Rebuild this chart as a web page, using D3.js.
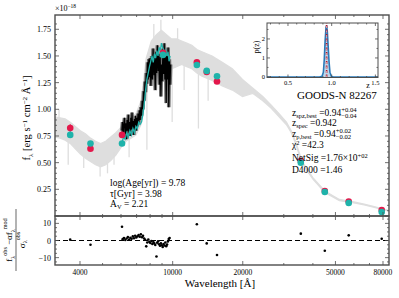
<!DOCTYPE html>
<html>
<head>
<meta charset="utf-8">
<script src="https://cdn.jsdelivr.net/npm/d3@7"></script>
<style>
  body { margin: 0; background: #fff; }
  svg { display: block; font-family: "Liberation Serif", "DejaVu Serif", serif; }
</style>
</head>
<body>
<svg width="399" height="298"></svg>
<script>
// best-fit template (light grey), flux in 1e-18 erg/s/cm2/A
var greyWave = [3124, 3285, 3454, 3631, 3818, 4014, 4220, 4437, 4665, 4905, 5157, 5422, 5700, 5993,
  6301, 6625, 6965, 7323, 7510, 7699, 8095, 8511, 8948, 9408, 9891, 10400, 10934, 11495, 12086,
  12707, 13360, 14767, 16324, 18044, 19945, 22047, 24371, 26500, 28500, 30800, 32300, 33700,
  35000, 36000, 40000, 45000, 52000, 60000, 66400, 73400, 81000, 84900];
var greyHi = [0.93, 0.92, 0.91, 0.88, 0.84, 0.80, 0.77, 0.73, 0.70, 0.68, 0.70, 0.74, 0.78, 0.83,
  0.88, 0.92, 0.96, 1.08, 1.28, 1.48, 1.64, 1.70, 1.74, 1.70, 1.66, 1.66, 1.64, 1.62, 1.60,
  1.56, 1.54, 1.50, 1.44, 1.38, 1.28, 1.20, 1.12, 1.04, 0.965, 0.88, 0.80, 0.70,
  0.59, 0.51, 0.36, 0.235, 0.155, 0.132, 0.112, 0.088, 0.063, 0.053];
var greyLo = [0.74, 0.73, 0.71, 0.68, 0.63, 0.58, 0.54, 0.51, 0.48, 0.46, 0.48, 0.52, 0.57, 0.64,
  0.70, 0.73, 0.76, 0.86, 1.02, 1.18, 1.34, 1.40, 1.44, 1.40, 1.38, 1.40, 1.42, 1.40, 1.38,
  1.34, 1.31, 1.27, 1.22, 1.18, 1.12, 1.15, 1.08, 1.01, 0.935, 0.855, 0.78, 0.68,
  0.57, 0.49, 0.345, 0.22, 0.143, 0.122, 0.103, 0.080, 0.056, 0.046];
// absorption / emission spikes of the template
var spikeWave = [3250, 3560, 4150, 4880, 5250, 5600, 6500, 7750, 8300, 8900, 9300, 9950, 10500, 11200, 12900, 14200];
var spikeFrom = [0.90, 0.72, 0.60, 0.50, 0.52, 0.60, 0.72, 1.20, 1.66, 1.72, 1.42, 1.40, 1.62, 1.42, 1.35, 1.30];
var spikeTo   = [1.00, 0.48, 0.45, 0.37, 0.40, 0.48, 0.55, 0.62, 1.80, 1.84, 1.05, 0.88, 1.76, 1.18, 0.82, 1.08];

// grism spectrum (black)
var obsWave = [6050, 6090, 6130, 6170, 6210, 6250, 6290, 6330, 6370, 6410, 6450, 6490, 6530, 6570,
  6610, 6650, 6690, 6730, 6770, 6810, 6850, 6890, 6930, 6970, 7010, 7050, 7100, 7150, 7200, 7250,
  7300, 7350, 7400, 7450, 7500, 7550, 7600, 7650, 7700, 7750, 7800, 7850, 7900, 7950, 8000, 8060,
  8120, 8180, 8240, 8300, 8360, 8420, 8480, 8540, 8600, 8660, 8720, 8780, 8840, 8900, 8960, 9020,
  9080, 9140, 9200, 9260, 9320, 9380, 9440, 9500, 9560, 9620, 9680, 9740, 9800];
var obsFlux = [0.80, 0.88, 0.74, 0.86, 0.92, 0.77, 0.87, 0.72, 0.90, 0.80, 0.95, 0.78, 0.88, 0.75,
  0.92, 0.81, 0.97, 0.79, 0.89, 0.76, 0.91, 0.82, 0.94, 0.80, 0.92, 0.84, 0.96, 0.86, 0.99, 0.90,
  1.02, 0.94, 1.08, 1.00, 1.17, 1.08, 1.26, 1.16, 1.34, 1.24, 1.44, 1.28, 1.47, 1.30, 1.48, 1.22,
  1.50, 1.28, 1.57, 1.32, 1.48, 1.18, 1.54, 1.34, 1.60, 1.36, 1.52, 1.23, 1.49, 1.12, 1.42, 1.26,
  1.57, 1.33, 1.62, 1.28, 1.54, 1.06, 1.50, 1.28, 1.58, 1.02, 1.47, 1.23, 1.42];

// model at grism resolution (cyan)
var modWave = [6050, 6150, 6250, 6350, 6450, 6550, 6650, 6750, 6850, 6950, 7050, 7150, 7250, 7350,
  7450, 7550, 7650, 7750, 7850, 7950, 8050, 8150, 8250, 8350, 8450, 8550, 8650, 8750, 8850, 8950,
  9050, 9150, 9250, 9350, 9450, 9550, 9650, 9750];
var modFlux = [0.68, 0.74, 0.72, 0.78, 0.74, 0.80, 0.76, 0.82, 0.78, 0.84, 0.82, 0.88, 0.86, 0.88,
  0.95, 1.05, 1.18, 1.28, 1.34, 1.40, 1.45, 1.50, 1.44, 1.52, 1.48, 1.55, 1.50, 1.58, 1.55, 1.62,
  1.58, 1.56, 1.52, 1.55, 1.50, 1.54, 1.45, 1.50];

// photometry: observed (red) and model (teal)
var photWave  = [3631, 4437, 6060, 9085, 12700, 14000, 15500, 35500, 45000, 57000, 79000];
var photFlux  = [0.825, 0.63, 0.76, 1.53, 1.44, 1.35, 1.26, 0.515, 0.234, 0.136, 0.056];
var photErr   = [0.035, 0.02, 0.02, 0.02, 0.015, 0.015, 0.015, 0.01, 0.01, 0.01, 0.01];
var photModel = [0.76, 0.68, 0.68, 1.51, 1.415, 1.36, 1.31, 0.50, 0.225, 0.122, 0.037];

// residuals (obs - a*mod)/sigma
var resWave = [3631, 4437, 6060, 6100, 6180, 6260, 6340, 6420, 6500, 6580, 6660, 6740, 6820, 6900,
  6980, 7060, 7140, 7220, 7300, 7380, 7460, 7540, 7620, 7700, 7780, 7860, 7940, 8020, 8100, 8180,
  8260, 8340, 8420, 8520, 8580, 8660, 8740, 8820, 8900, 8980, 9060, 9140, 9220, 9300, 9380, 9460,
  9540, 9620, 9700, 12700, 14000, 15500, 35500, 45000, 57000, 79000];
var resVal = [0.5, -2.5, 8.0, 0.8, 1.5, 0.3, 1.2, 2.0, 0.6, 1.6, 1.0, 2.4, 1.3, 2.8,
  1.8, 2.5, 3.2, 2.2, 3.6, 1.9, 2.7, 1.2, 0.4, -3.4, -1.2, 0.6, -0.8, -1.5, -0.3, -2.0,
  -0.9, -1.7, -2.6, -9.3, -1.3, -0.5, -2.2, -3.0, -1.6, -2.8, -3.8, -2.0, -2.9, -1.2, -3.3, -2.4,
  -0.6, 0.9, 1.5, 9.5, -1.7, -8.5, 4.0, -6.0, 3.0, 1.0];

// photo-z probability
var zGrid = [0.26, 0.86, 0.89, 0.905, 0.915, 0.925, 0.935, 0.942, 0.95, 0.96, 0.97, 0.98, 0.995, 1.02, 1.53];
var pz    = [0.0, 0.0, 0.03, 0.25, 0.9, 1.9, 2.6, 2.7, 2.4, 1.6, 0.8, 0.25, 0.04, 0.0, 0.0];

var xMajor = [4000, 10000, 20000, 50000, 80000];
var xLabels = ['4000', '10000', '20000', '50000', '80000'];
var xMinor = [5000, 6000, 7000, 8000, 9000, 30000, 40000, 60000, 70000];
var yMajor = [0, 0.25, 0.5, 0.75, 1.0, 1.25, 1.5, 1.75];
var yLabels = ['', '0.25', '0.50', '0.75', '1.00', '1.25', '1.50', '1.75'];
var rMajor = [-10, 0, 10];

var svg = d3.select('svg');
var L = 55, R = 389, T = 15, M = 216, B = 265;

var x = d3.scaleLog().domain([3124, 84900]).range([L, R]);
var y = d3.scaleLinear().domain([0, 1.884]).range([M, T]);
var yr = d3.scaleLinear().domain([-14.3, 14.3]).range([B, M]);

var FRAME = '#4d4d4d';

svg.append('clipPath').attr('id', 'clipMain')
  .append('rect').attr('x', L).attr('y', T).attr('width', R - L).attr('height', M - T);
svg.append('clipPath').attr('id', 'clipRes')
  .append('rect').attr('x', L).attr('y', M).attr('width', R - L).attr('height', B - M);

var main = svg.append('g').attr('clip-path', 'url(#clipMain)');

// grey template
var greyData = greyWave.map(function(w, i) { return {w: w, hi: greyHi[i], lo: greyLo[i]}; });
main.append('path')
  .datum(greyData)
  .attr('d', d3.area()
    .x(function(d) { return x(d.w); })
    .y0(function(d) { return y(d.lo); })
    .y1(function(d) { return y(d.hi); }))
  .attr('fill', '#dedede')
  .attr('stroke', '#dedede')
  .attr('stroke-width', 1.2);

main.selectAll('.spike')
  .data(spikeWave)
  .enter()
  .append('line')
  .attr('class', 'spike')
  .attr('x1', function(d) { return x(d); })
  .attr('x2', function(d) { return x(d); })
  .attr('y1', function(d, i) { return y(spikeFrom[i]); })
  .attr('y2', function(d, i) { return y(spikeTo[i]); })
  .attr('stroke', '#dedede')
  .attr('stroke-width', 1.3);

// grism spectrum
var obsData = obsWave.map(function(w, i) { return [w, obsFlux[i]]; });
var lineGen = d3.line()
  .x(function(d) { return x(d[0]); })
  .y(function(d) { return y(d[1]); });
main.append('path')
  .datum(obsData)
  .attr('d', lineGen)
  .attr('fill', 'none')
  .attr('stroke', '#6e6e6e')
  .attr('stroke-width', 3.6);
main.append('path')
  .datum(obsData)
  .attr('d', lineGen)
  .attr('fill', 'none')
  .attr('stroke', '#000')
  .attr('stroke-width', 1.2);

main.append('path')
  .datum(modWave.map(function(w, i) { return [w, modFlux[i]]; }))
  .attr('d', lineGen)
  .attr('fill', 'none')
  .attr('stroke', '#20b2aa')
  .attr('stroke-width', 1.3);

// photometry
main.selectAll('.err')
  .data(photWave)
  .enter()
  .append('line')
  .attr('class', 'err')
  .attr('x1', function(d) { return x(d); })
  .attr('x2', function(d) { return x(d); })
  .attr('y1', function(d, i) { return y(photFlux[i] - photErr[i]); })
  .attr('y2', function(d, i) { return y(photFlux[i] + photErr[i]); })
  .attr('stroke', '#e3184b')
  .attr('stroke-width', 1.2);
main.selectAll('.obs')
  .data(photWave)
  .enter()
  .append('circle')
  .attr('class', 'obs')
  .attr('cx', function(d) { return x(d); })
  .attr('cy', function(d, i) { return y(photFlux[i]); })
  .attr('r', 3.3)
  .attr('fill', '#e3184b');
main.selectAll('.mod')
  .data(photWave)
  .enter()
  .append('circle')
  .attr('class', 'mod')
  .attr('cx', function(d) { return x(d); })
  .attr('cy', function(d, i) { return y(photModel[i]); })
  .attr('r', 3.3)
  .attr('fill', '#1fb3aa');

// residuals
var res = svg.append('g').attr('clip-path', 'url(#clipRes)');
res.append('line')
  .attr('x1', L).attr('x2', R)
  .attr('y1', yr(0)).attr('y2', yr(0))
  .attr('stroke', '#000')
  .attr('stroke-width', 1.2)
  .attr('stroke-dasharray', '5,3');
res.selectAll('.res')
  .data(resWave)
  .enter()
  .append('circle')
  .attr('class', 'res')
  .attr('cx', function(d) { return x(d); })
  .attr('cy', function(d, i) { return yr(resVal[i]); })
  .attr('r', 1.3)
  .attr('fill', '#000');

// frames and ticks
function frame(x0, y0, x1, y1, w) {
  svg.append('rect')
    .attr('x', x0).attr('y', y0)
    .attr('width', x1 - x0).attr('height', y1 - y0)
    .attr('fill', 'none')
    .attr('stroke', FRAME)
    .attr('stroke-width', w);
}
function xTicks(vals, scale, yy, dir, len) {
  svg.selectAll(null)
    .data(vals)
    .enter()
    .append('line')
    .attr('x1', function(d) { return scale(d); })
    .attr('x2', function(d) { return scale(d); })
    .attr('y1', yy)
    .attr('y2', yy + dir * len)
    .attr('stroke', FRAME)
    .attr('stroke-width', 0.8);
}
function yTicks(vals, scale, xx, dir, len) {
  svg.selectAll(null)
    .data(vals)
    .enter()
    .append('line')
    .attr('y1', function(d) { return scale(d); })
    .attr('y2', function(d) { return scale(d); })
    .attr('x1', xx)
    .attr('x2', xx + dir * len)
    .attr('stroke', FRAME)
    .attr('stroke-width', 0.8);
}

var yMinor = d3.range(0.05, 1.85, 0.05).filter(function(v) { return Math.abs(v / 0.25 - Math.round(v / 0.25)) > 0.01; });
var rMinor = [-12.5, -7.5, -5, -2.5, 2.5, 5, 7.5, 12.5];

[T, M].forEach(function(yy) {
  xTicks(xMajor, x, yy, 1, 4);
  xTicks(xMinor, x, yy, 1, 2);
});
[M, B].forEach(function(yy) {
  xTicks(xMajor, x, yy, -1, 4);
  xTicks(xMinor, x, yy, -1, 2);
});
yTicks(yMajor, y, L, 1, 4);
yTicks(yMinor, y, L, 1, 2);
yTicks(yMajor, y, R, -1, 4);
yTicks(yMinor, y, R, -1, 2);
yTicks(rMajor, yr, L, 1, 4);
yTicks(rMinor, yr, L, 1, 2);
yTicks(rMajor, yr, R, -1, 4);
yTicks(rMinor, yr, R, -1, 2);

frame(L, T, R, M, 1.4);
frame(L, M, R, B, 1.4);

svg.selectAll('.ylab')
  .data(yMajor)
  .enter()
  .append('text')
  .attr('x', L - 4)
  .attr('y', function(d) { return y(d) + 3; })
  .attr('text-anchor', 'end')
  .style('font-size', '8px')
  .text(function(d, i) { return yLabels[i]; });

svg.selectAll('.rlab')
  .data(rMajor)
  .enter()
  .append('text')
  .attr('x', L - 4)
  .attr('y', function(d) { return yr(d) + 3; })
  .attr('text-anchor', 'end')
  .style('font-size', '8px')
  .text(function(d) { return d < 0 ? '\u2212' + (-d) : d; });

svg.selectAll('.xlab')
  .data(xMajor)
  .enter()
  .append('text')
  .attr('x', function(d) { return x(d); })
  .attr('y', B + 10)
  .attr('text-anchor', 'middle')
  .style('font-size', '7.5px')
  .text(function(d, i) { return xLabels[i]; });

// rich text helper: parts = [[text, shift]]
function rich(g, xx, yy, parts, size, anchor) {
  var t = g.append('text')
    .attr('x', xx).attr('y', yy)
    .attr('text-anchor', anchor || 'start')
    .style('font-size', size + 'px');
  var shift = 0;
  parts.forEach(function(p) {
    var s = p[1] || 0;
    var ts = t.append('tspan').text(p[0]).attr('dy', s - shift);
    if (s !== 0) ts.style('font-size', (size * 0.68) + 'px');
    shift = s;
  });
  return t;
}
function stack(g, xx, yy, main, sup, sub, size) {
  var t = rich(g, xx, yy, main, size);
  var w = t.node().getComputedTextLength();
  g.append('text').attr('x', xx + w).attr('y', yy - size * 0.42)
    .style('font-size', (size * 0.7) + 'px').text(sup);
  g.append('text').attr('x', xx + w).attr('y', yy + size * 0.22)
    .style('font-size', (size * 0.7) + 'px').text(sub);
}

rich(svg, L, 11, [['\u00d710'], ['\u221218', -3]], 8);
rich(svg, 220, 287, [['Wavelength [\u00c5]']], 11, 'middle');

var yl = svg.append('g').attr('transform', 'translate(30,118) rotate(-90)');
rich(yl, 0, 0, [['f'], ['\u03bb', 2.5], [' [erg s', 0], ['\u22121', -3.5], [' cm', 0], ['\u22122', -3.5],
  [' \u00c5', 0], ['\u22121', -3.5], [']', 0]], 10.5, 'middle');

var rl = svg.append('g').attr('transform', 'translate(12,240) rotate(-90)');
rich(rl, 0, 0, [['f'], ['\u03bb', 2.5], ['obs', -5], [' \u2212\u03b1f', 0], ['\u03bb', 2.5], ['mod', -5]], 9, 'middle');
rl.append('line').attr('x1', -31).attr('x2', 31).attr('y1', 4).attr('y2', 4)
  .attr('stroke', '#000').attr('stroke-width', 0.6);
rich(rl, 0, 12.5, [['\u03c3'], ['\u03bb', 2.5], ['obs', -5]], 9, 'middle');

// lower-left fit parameters
rich(svg, 110, 186, [['log(Age[yr]) = 9.78']], 9.5);
rich(svg, 110, 197, [['\u03c4[Gyr] = 3.98']], 9.5);
rich(svg, 110, 207, [['A'], ['V', 2], [' = 2.21', 0]], 9.5);

// right info block
rich(svg, 297, 99, [['GOODS-N 82267']], 11);
stack(svg, 292, 116, [['z'], ['spz,best', 1.5], [' =0.94', 0]], '+0.04', '\u22120.04', 9.5);
rich(svg, 292, 126, [['z'], ['spec', 1.5], [' =0.942', 0]], 9.5);
stack(svg, 292, 137, [['z'], ['p,best', 1.5], [' =0.94', 0]], '+0.02', '\u22120.02', 9.5);
rich(svg, 292, 148, [['\u03c7'], ['2', -3.5], [' =42.3', 0]], 9.5);
rich(svg, 292, 161, [['NetSig =1.76\u00d710'], ['+02', -3.5]], 9.5);
rich(svg, 292, 173, [['D4000 =1.46']], 9.5);

// inset p(z)
var IL = 267, IR = 378, IT = 23, IB = 77.5;
var xz = d3.scaleLinear().domain([0.26, 1.53]).range([IL, IR]);
var yz = d3.scaleLinear().domain([-0.03, 2.84]).range([IB, IT]);
var inset = svg.append('g');
inset.append('rect').attr('x', IL).attr('y', IT).attr('width', IR - IL).attr('height', IB - IT)
  .attr('fill', '#fff');
var pzData = zGrid.map(function(z, i) { return [z, pz[i]]; });
inset.append('path')
  .datum(pzData)
  .attr('d', d3.area().x(function(d) { return xz(d[0]); }).y0(yz(-0.03)).y1(function(d) { return yz(d[1]); }))
  .attr('fill', '#bcd6ea');
inset.append('path')
  .datum(pzData)
  .attr('d', d3.line().x(function(d) { return xz(d[0]); }).y(function(d) { return yz(d[1]); }))
  .attr('fill', 'none')
  .attr('stroke', '#2a7ab9')
  .attr('stroke-width', 1.6);
inset.append('line')
  .attr('x1', xz(0.942)).attr('x2', xz(0.942)).attr('y1', IB).attr('y2', IT)
  .attr('stroke', '#b2182b').attr('stroke-width', 1.6).attr('stroke-dasharray', '3,1.5');
inset.append('line')
  .attr('x1', xz(0.942)).attr('x2', xz(0.942)).attr('y1', IB).attr('y2', IT)
  .attr('stroke', '#fff').attr('stroke-width', 0.6).attr('stroke-dasharray', '2,2.5');

var zMajor = [0.5, 1.0, 1.5];
var zMinor = [0.3, 0.4, 0.6, 0.7, 0.8, 0.9, 1.1, 1.2, 1.3, 1.4];
var pMajor = [0, 1, 2];
var pMinor = [0.5, 1.5, 2.5];
xTicks(zMajor, xz, IB, -1, 3);
xTicks(zMinor, xz, IB, -1, 1.5);
xTicks(zMajor, xz, IT, 1, 3);
xTicks(zMinor, xz, IT, 1, 1.5);
yTicks(pMajor, yz, IL, 1, 3);
yTicks(pMinor, yz, IL, 1, 1.5);
yTicks(pMajor, yz, IR, -1, 3);
yTicks(pMinor, yz, IR, -1, 1.5);
frame(IL, IT, IR, IB, 1);

svg.selectAll('.zlab')
  .data(zMajor)
  .enter()
  .append('text')
  .attr('x', function(d) { return xz(d); })
  .attr('y', IB + 7)
  .attr('text-anchor', 'middle')
  .style('font-size', '6.5px')
  .text(function(d) { return d.toFixed(1); });
svg.selectAll('.plab')
  .data(pMajor)
  .enter()
  .append('text')
  .attr('x', IL - 2)
  .attr('y', function(d) { return yz(d) + 2.5; })
  .attr('text-anchor', 'end')
  .style('font-size', '6.5px')
  .text(function(d) { return d; });
rich(svg, 368, 88, [['z']], 8, 'middle');
var pl = svg.append('g').attr('transform', 'translate(259,47) rotate(-90)');
rich(pl, 0, 0, [['p(z)']], 8, 'middle');
</script>
</body>
</html>
